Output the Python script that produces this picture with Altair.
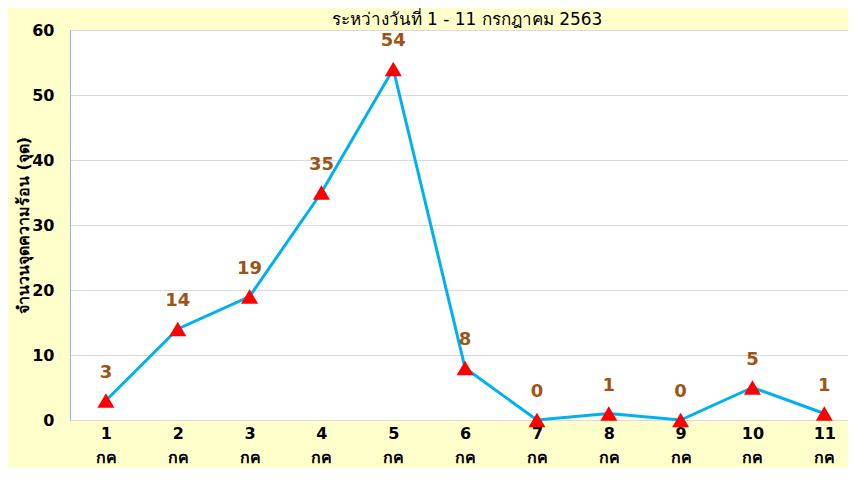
import altair as alt
import pandas as pd

days = list(range(1, 12))
hotspots = [3, 14, 19, 35, 54, 8, 0, 1, 0, 5, 1]
month = "กค"
chart_title = "ระหว่างวันที่ 1 - 11 กรกฎาคม 2563"
y_title = "จำนวนจุดความร้อน (จุด)"
y_ticks = [0, 10, 20, 30, 40, 50, 60]

df = pd.DataFrame({"day": days, "value": hotspots})
title_df = pd.DataFrame({"t": [chart_title]})

x = alt.X(
    "day:Q",
    scale=alt.Scale(domain=[0.5, 11.33], nice=False, zero=False),
    axis=alt.Axis(
        values=days,
        labelExpr=f"[datum.label, '{month}']",
        grid=False, ticks=False, domain=False,
        labelFontSize=16, labelFontWeight="bold", labelColor="black",
        labelPadding=5, labelBaseline="top", labelLineHeight=24,
        labelFont="DejaVu Sans", labelFlush=False, labelOverlap=False,
    ),
    title=None,
)
y = alt.Y(
    "value:Q",
    scale=alt.Scale(domain=[0, 60], nice=False),
    axis=alt.Axis(
        values=y_ticks, grid=True, gridColor="#D9D9D9", ticks=False,
        domainColor="#8EB4E3", labelFontSize=16, labelFontWeight="bold",
        labelColor="black", labelFont="DejaVu Sans", labelPadding=16,
        labelFlush=False, title=y_title, titleFontSize=16,
        titleFontWeight="bold", titleColor="black", titlePadding=0,
        titleFont="DejaVu Sans",
    ),
)

base = alt.Chart(df).encode(x=x, y=y)
line = base.mark_line(color="#00B0F0", strokeWidth=3)
pts = base.mark_point(shape="triangle-up", filled=True, color="#FF0000",
                      size=290, opacity=1)
txt = base.mark_text(dy=-28, fontSize=18, fontWeight="bold",
                     color="#9E5416", font="DejaVu Sans").encode(text="value:Q")
ttl = alt.Chart(title_df).mark_text(
    fontSize=17, color="black", font="DejaVu Sans", baseline="middle", align="center"
).encode(x=alt.value(397), y=alt.value(-10), text="t:N")

chart = (
    alt.layer(line, pts, txt, ttl)
    .properties(
        width=778, height=390,
        autosize=alt.AutoSizeParams(type="none"),
        padding={"left": 62, "top": 22, "right": 0, "bottom": 48},
        background="#FFFFCC",
    )
    .configure_view(fill="white", stroke="#8EB4E3", strokeWidth=1)
)

chart.save("out.html", embed_options={"renderer": "svg", "actions": False})
